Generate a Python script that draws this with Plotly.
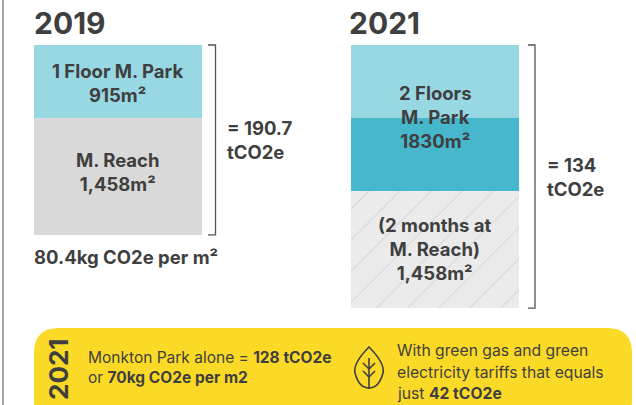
import plotly.graph_objects as go

W, H = 636, 405
years = ["2019", "2021"]
floor_one = [915, 915]
floor_two = [0, 915]
reach = [1458, 1458]
totals = ["= 190.7<br>tCO2e", "= 134<br>tCO2e"]

DARK = "#3f3f3f"
FONT = "Inter"
PX_PER_M2 = 0.08

fig = go.Figure()
fig.add_bar(x=years, y=floor_one, marker=dict(color="#98d8e3", line_width=0), width=0.53)
fig.add_bar(x=years, y=floor_two, marker=dict(color="#46b7cd", line_width=0), width=0.53)
fig.add_bar(x=years[:1], y=reach[:1], width=0.53, marker=dict(color="#d9d9d9", line_width=0))
fig.add_bar(x=years[1:], y=reach[1:], width=0.53,
            marker=dict(color="#ebebeb", line_width=0,
                        pattern=dict(shape="/", fgcolor="#d6d6d6", bgcolor="#ebebeb", fgopacity=1,
                                     size=22, solidity=0.05, fillmode="replace")))

def px(x):
    return x / W

def py(y):
    return 1 - y / H

def txt(x, y, s, size=15, anchor="center", color=DARK, angle=0, align=None):
    fig.add_annotation(x=px(x - 2 if anchor == "left" else x), y=py(y), xref="paper", yref="paper",
                       text=s, showarrow=False,
                       xanchor=anchor, yanchor="middle", align=align or anchor, textangle=angle,
                       font=dict(family=FONT, size=size, color=color))

def P(x, y):
    return f"{px(x)} {py(y)}"

shapes = []
# outer left rule
shapes.append(dict(type="line", xref="paper", yref="paper", x0=px(3), x1=px(3), y0=0, y1=1,
                   line=dict(color="#8a8a8a", width=1.5)))
# brackets, heights come from the stacked values
for left, right, i in [(208, 215.5, 0), (528, 535, 1)]:
    total = floor_one[i] + floor_two[i] + reach[i]
    shapes.append(dict(type="path", xref="paper", yref="y",
                       path=f"M {px(left)} 0 L {px(right)} 0 L {px(right)} {total} L {px(left)} {total}",
                       line=dict(color="#555555", width=1.3)))
# yellow panel
L, R, T, B, r = 34, 632, 328, 425, 25
shapes.append(dict(type="path", xref="paper", yref="paper",
                   path=(f"M {P(L+r,T)} L {P(R-r,T)} Q {P(R,T)} {P(R,T+r)} L {P(R,B-r)} Q {P(R,B)} {P(R-r,B)} "
                         f"L {P(L+r,B)} Q {P(L,B)} {P(L,B-r)} L {P(L,T+r)} Q {P(L,T)} {P(L+r,T)} Z"),
                   fillcolor="#fbda27", line_width=0, layer="below"))
# leaf icon
cx = 369
shapes.append(dict(type="path", xref="paper", yref="paper",
                   path=(f"M {P(cx,347)} Q {P(cx+16,363)} {P(cx+14,373)} Q {P(cx+10,388)} {P(cx,388)} "
                         f"Q {P(cx-10,388)} {P(cx-14,373)} Q {P(cx-16,363)} {P(cx,347)} Z"),
                   line=dict(color=DARK, width=1.6)))
shapes.append(dict(type="line", xref="paper", yref="paper", x0=px(cx), x1=px(cx),
                   y0=py(358), y1=py(389), line=dict(color=DARK, width=1.6)))
for yy in (363, 371):
    for s in (-1, 1):
        shapes.append(dict(type="line", xref="paper", yref="paper", x0=px(cx+s*6), x1=px(cx),
                           y0=py(yy), y1=py(yy+6), line=dict(color=DARK, width=1.6)))

fig.update_layout(
    width=W, height=H, barmode="stack", bargap=0, showlegend=False,
    margin=dict(l=0, r=0, t=0, b=0), paper_bgcolor="white", plot_bgcolor="white",
    xaxis=dict(type="category", categoryorder="array", categoryarray=years,
               range=[-118 / 317, (W - 118) / 317], visible=False, fixedrange=True),
    yaxis=dict(range=[(H - 45) / PX_PER_M2, -45 / PX_PER_M2], visible=False, fixedrange=True),
    shapes=shapes,
)

txt(34, 23, f"<b>{years[0]}</b>", 30, "left")
txt(349, 23, f"<b>{years[1]}</b>", 30, "left")
txt(118, 83, "<b>1 Floor M. Park<br>915m²</b>", 18.5)
txt(118, 172, "<b>M. Reach<br>1,458m²</b>", 18.5)
txt(435, 117, "<b>2 Floors<br>M. Park<br>1830m²</b>", 18.5)
txt(435, 249, "<b>(2 months at<br>M. Reach)<br>1,458m²</b>", 18.5)
txt(227, 140, f"<b>{totals[0]}</b>", 18.5, "left")
txt(547, 177, f"<b>{totals[1]}</b>", 18.5, "left")
txt(34, 257, "<b>80.4kg CO2e per m²</b>", 18.5, "left")
txt(58, 369, f"<b>{years[1]}</b>", 26, "center", angle=-90)
txt(88, 357, "Monkton Park alone = <b>128 tCO2e</b>", 15.5, "left")
txt(88, 377, "or <b>70kg CO2e per m2</b>", 15.5, "left")
txt(397, 350, "With green gas and green", 15.7, "left")
txt(397, 372, "electricity tariffs that equals", 15.7, "left")
txt(397, 393, "just <b>42 tCO2e</b>", 15.7, "left")

fig.write_html("out.html", config=dict(displayModeBar=False),
               post_script="document.body.style.margin='0';document.body.style.overflow='hidden';")
